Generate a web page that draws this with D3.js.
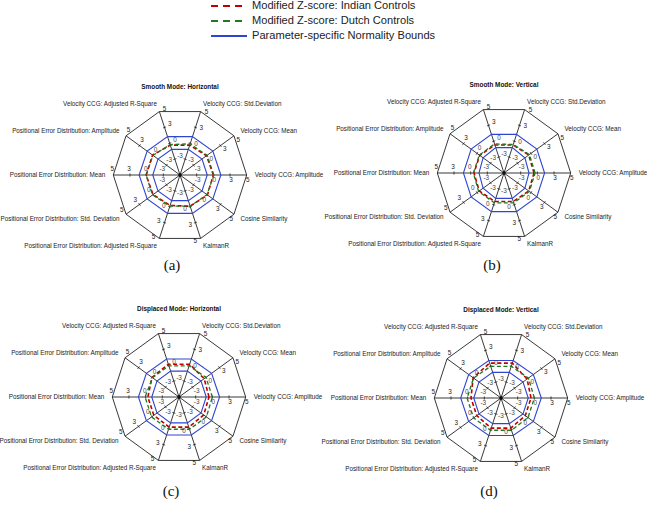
<!DOCTYPE html>
<html>
<head>
<meta charset="utf-8">
<script src="https://cdn.jsdelivr.net/npm/d3@7/dist/d3.min.js"></script>
<style>
  body { margin: 0; background: #fff; }
  svg { font-family: "Liberation Sans", Arial, sans-serif; }
</style>
</head>
<body>
<div id="wrapper"></div>
<script>
// axes go counter-clockwise, starting at 3 o'clock
const axisNames = [
  "Velocity CCG: Amplitude",
  "Velocity CCG: Mean",
  "Velocity CCG: Std.Deviation",
  "Velocity CCG: Adjusted R-Square",
  "Positional Error Distribution: Amplitude",
  "Positional Error Distribution: Mean",
  "Positional Error Distribution: Std. Deviation",
  "Positional Error Distribution: Adjusted R-Square",
  "KalmanR",
  "Cosine Similarity",
]
const tickValues = [-3, 0, 3, 5]
const scaleStops = [-6, -3, 0, 3, 5]

const panelTitles = ["Smooth Mode: Horizontal", "Smooth Mode: Vertical", "Displaced Mode: Horizontal", "Displaced Mode: Vertical"]
const panelTags = ["(a)", "(b)", "(c)", "(d)"]
const legendLabels = ["Modified Z-score: Indian Controls", "Modified Z-score: Dutch Controls", "Parameter-specific Normality Bounds"]

// modified z-scores, one value per axis
const indianA = [0.0, -0.1, -0.35, -0.35, 0.1, 0.1, 0.0, -0.25, -0.1, 0.1]
const dutchA  = [0.1, 0.0, -0.1, -0.25, 0.0, 0.1, 0.1, -0.1, -0.1, 0.0]
const lowerA  = [-1.1, -1.1, -1.15, -1.15, -1.1, -1.1, -1.1, -1.15, -1.15, -1.1]
const upperA  = [1.35, 1.3, 1.25, 1.25, 1.3, 1.35, 1.3, 1.25, 1.25, 1.3]

const indianB = [-0.6, -0.5, -0.7, -0.7, -0.6, -0.6, -0.5, -0.6, -0.6, -0.5]
const dutchB  = [-0.4, -0.35, -0.6, -0.5, -0.5, -0.5, -0.35, -0.35, -0.35, -0.35]
const lowerB  = [-1.5, -1.35, -1.2, -1.2, -1.35, -1.5, -1.35, -1.2, -1.2, -1.35]
const upperB  = [1.3, 1.3, 1.3, 1.3, 1.3, 1.3, 1.3, 1.3, 1.3, 1.3]

const indianC = [-0.6, -0.4, 0.2, 0.2, 0.0, -0.4, -0.4, -0.3, -0.3, -0.5]
const dutchC  = [0.0, 0.0, -0.1, -0.1, -0.1, 0.1, 0.1, 0.1, 0.1, 0.1]
const lowerC  = [-1.1, -1.1, -1.1, -1.1, -1.1, -1.1, -1.1, -1.1, -1.1, -1.1]
const upperC  = [1.3, 1.25, 1.2, 1.2, 1.25, 1.3, 1.25, 1.2, 1.2, 1.25]

const indianD = [-0.6, -0.2, 0.6, 0.6, 0.2, -0.6, -0.6, -0.3, -0.3, -0.6]
const dutchD  = [0.0, 0.1, 0.0, 0.0, 0.1, 0.1, 0.1, 0.1, 0.1, 0.0]
const lowerD  = [-1.1, -1.1, -1.15, -1.15, -1.1, -1.1, -1.1, -1.15, -1.15, -1.1]
const upperD  = [1.25, 1.2, 1.1, 1.1, 1.2, 1.25, 1.2, 1.1, 1.1, 1.2]

function drawChart() {

  // 1. Access data
  const panels = [
    {indian: indianA, dutch: dutchA, lower: lowerA, upper: upperA},
    {indian: indianB, dutch: dutchB, lower: lowerB, upper: upperB},
    {indian: indianC, dutch: dutchC, lower: lowerC, upper: upperC},
    {indian: indianD, dutch: dutchD, lower: lowerD, upper: upperD},
  ].map((d, i) => ({...d, title: panelTitles[i], tag: panelTags[i]}))

  // 2. Create chart dimensions
  let dimensions = {
    width: 647,
    height: 514,
    radius: 66.7,
    centers: [[180, 175], [504, 173], [179, 397], [501, 398]],
    tagY: [267, 267, 493, 493],
  }

  const colors = {indian: "#c00000", dutch: "#1f7a1f", bounds: "#2f45d0", axis: "#222"}

  // 3. Draw canvas
  const wrapper = d3.select("#wrapper")
    .append("svg")
      .attr("width", dimensions.width)
      .attr("height", dimensions.height)

  // 4. Create scales
  const rScale = d3.scaleLinear()
    .domain(scaleStops)
    .range(scaleStops.map((d, i) => dimensions.radius * i / (scaleStops.length - 1)))

  const step = 2 * Math.PI / axisNames.length
  const theta = i => i * step
  const px = (i, v) => rScale(v) * Math.cos(theta(i))
  const py = (i, v) => -rScale(v) * Math.sin(theta(i))

  // lineRadial measures angle clockwise from 12 o'clock
  const radar = d3.lineRadial()
    .angle((d, i) => Math.PI / 2 - theta(i))
    .radius(d => rScale(d))
    .curve(d3.curveLinearClosed)

  // 5. Draw data
  panels.forEach((p, k) => {
    const [cx, cy] = dimensions.centers[k]
    const bounds = wrapper.append("g")
        .attr("transform", `translate(${cx},${cy})`)

    // outer web
    bounds.append("path")
        .attr("d", radar(axisNames.map(() => scaleStops[scaleStops.length - 1])))
        .attr("fill", "none")
        .attr("stroke", colors.axis)
        .attr("stroke-width", 0.9)

    // spokes
    bounds.selectAll(".spoke")
      .data(axisNames)
      .join("line")
        .attr("class", "spoke")
        .attr("x1", 0).attr("y1", 0)
        .attr("x2", (d, i) => px(i, 5))
        .attr("y2", (d, i) => py(i, 5))
        .attr("stroke", colors.axis)
        .attr("stroke-width", 0.9)

    // small ticks on every spoke
    const ticks = axisNames.flatMap((d, i) => tickValues.slice(0, 3).map(t => ({i, t})))
    bounds.selectAll(".tick")
      .data(ticks)
      .join("line")
        .attr("class", "tick")
        .attr("x1", d => px(d.i, d.t) + 1.6 * Math.sin(theta(d.i)))
        .attr("y1", d => py(d.i, d.t) + 1.6 * Math.cos(theta(d.i)))
        .attr("x2", d => px(d.i, d.t) - 1.6 * Math.sin(theta(d.i)))
        .attr("y2", d => py(d.i, d.t) - 1.6 * Math.cos(theta(d.i)))
        .attr("stroke", colors.axis)
        .attr("stroke-width", 0.8)

    // normality bounds
    bounds.selectAll(".bound")
      .data([p.lower, p.upper])
      .join("path")
        .attr("class", "bound")
        .attr("d", radar)
        .attr("fill", "none")
        .attr("stroke", colors.bounds)
        .attr("stroke-width", 1.1)

    // z-score polygons
    bounds.append("path")
        .attr("d", radar(p.indian))
        .attr("fill", "none")
        .attr("stroke", colors.indian)
        .attr("stroke-width", 1.6)
        .attr("stroke-dasharray", "4,2.5")
    bounds.append("path")
        .attr("d", radar(p.dutch))
        .attr("fill", "none")
        .attr("stroke", colors.dutch)
        .attr("stroke-width", 1.3)
        .attr("stroke-dasharray", "4,2.5")

    bounds.append("circle")
        .attr("r", 1.8)
        .attr("fill", "#111")

    // 6. Draw peripherals
    const tickLabels = axisNames.flatMap((d, i) => tickValues.map(t => ({i, t})))
    bounds.selectAll(".tick-label")
      .data(tickLabels)
      .join("text")
        .attr("class", "tick-label")
        .attr("x", d => px(d.i, d.t) + 5.8 * Math.sin(theta(d.i)) + Math.cos(theta(d.i)))
        .attr("y", d => py(d.i, d.t) + 5.8 * Math.cos(theta(d.i)) - Math.sin(theta(d.i)))
        .attr("text-anchor", "middle")
        .attr("dominant-baseline", "middle")
        .attr("font-size", 6.4)
        .attr("fill", d => d.t === 5 || d.t === 3 ? "#222" : "#444")
        .text(d => d.t)

    bounds.selectAll(".axis-label")
      .data(axisNames)
      .join("text")
        .attr("class", "axis-label")
        .attr("x", (d, i) => px(i, 5) + 8 * Math.cos(theta(i)))
        .attr("y", (d, i) => py(i, 5) - 8 * Math.sin(theta(i)))
        .attr("text-anchor", (d, i) => Math.cos(theta(i)) > 0 ? "start" : "end")
        .attr("dominant-baseline", "middle")
        .attr("font-size", 6.3)
        .attr("fill", "#222")
        .text(d => d)

    bounds.append("text")
        .attr("x", 0)
        .attr("y", -dimensions.radius - 21)
        .attr("text-anchor", "middle")
        .attr("dominant-baseline", "middle")
        .attr("font-size", 6.4)
        .attr("font-weight", "bold")
        .attr("fill", "#111")
        .text(p.title)

    wrapper.append("text")
        .attr("x", cx - 8 + (k % 2 === 1 ? -4 : 0))
        .attr("y", dimensions.tagY[k])
        .attr("text-anchor", "middle")
        .attr("dominant-baseline", "middle")
        .style("font-family", "'Liberation Serif', 'Times New Roman', serif")
        .attr("font-size", 15)
        .attr("fill", "#111")
        .text(p.tag)
  })

  // legend
  const legendStyles = [
    {stroke: colors.indian, dash: "7,5"},
    {stroke: colors.dutch, dash: "7,5"},
    {stroke: colors.bounds, dash: null},
  ]
  const legend = wrapper.append("g")
      .attr("transform", "translate(211,6)")
  const rows = legend.selectAll("g")
    .data(legendLabels)
    .join("g")
      .attr("transform", (d, i) => `translate(0,${i * 15})`)
  rows.append("line")
      .attr("x1", 0).attr("x2", 36)
      .attr("stroke", (d, i) => legendStyles[i].stroke)
      .attr("stroke-width", 2)
      .attr("stroke-dasharray", (d, i) => legendStyles[i].dash)
  rows.append("text")
      .attr("x", 41)
      .attr("dominant-baseline", "middle")
      .attr("font-size", 11.1)
      .attr("fill", "#222")
      .text(d => d)
}

drawChart()
</script>
</body>
</html>
